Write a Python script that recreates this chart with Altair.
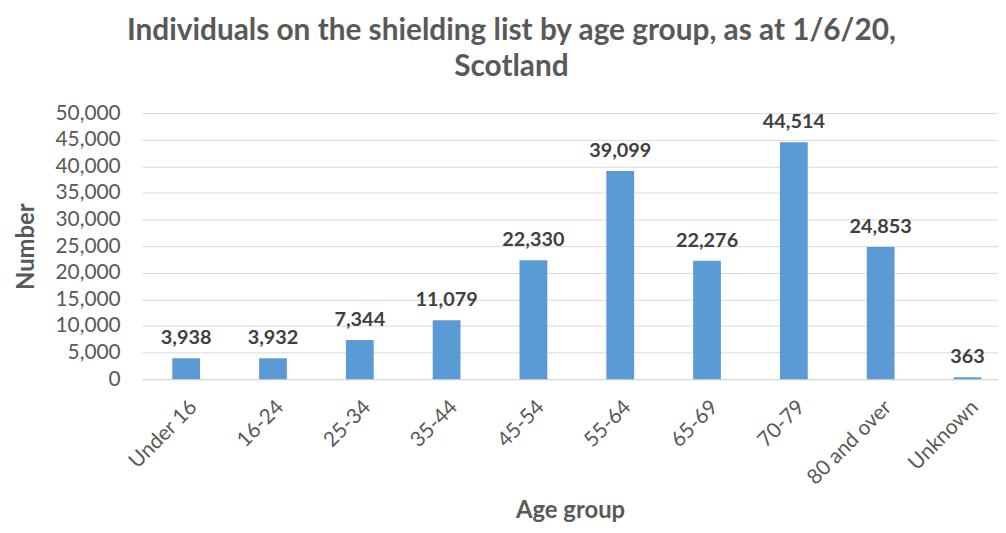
import altair as alt
import pandas as pd

age_groups = ["Under 16", "16-24", "25-34", "35-44", "45-54", "55-64",
              "65-69", "70-79", "80 and over", "Unknown"]
counts = [3938, 3932, 7344, 11079, 22330, 39099, 22276, 44514, 24853, 363]
y_ticks = [0, 5000, 10000, 15000, 20000, 25000, 30000, 35000, 40000, 45000, 50000]

df = pd.DataFrame({"age": age_groups, "n": counts})

FONT = "Lato"
GREY = "#595959"

xscale = alt.Scale(domain=age_groups, paddingInner=0.68, paddingOuter=0.27, align=0.645)
yscale = alt.Scale(domain=[0, 50000])

base = alt.Chart(df).encode(
    x=alt.X("age:N", sort=age_groups, scale=xscale,
            axis=alt.Axis(title="Age group", labelAngle=-45, labelFontSize=21,
                          labelColor=GREY, labelFont=FONT, labelPadding=17,
                          ticks=False, domainColor="#d9d9d9",
                          titleFontSize=24, titleFont=FONT, titleColor=GREY,
                          titleFontWeight="bold", titleY=139, titleBaseline="alphabetic")),
    y=alt.Y("n:Q", scale=yscale,
            axis=alt.Axis(title="Number", values=y_ticks, format=",d",
                          labelOverlap=False, labelFlush=False,
                          labelFontSize=21, labelColor=GREY, labelFont=FONT,
                          labelPadding=22, ticks=False, domain=False,
                          gridColor="#d9d9d9", titleFontSize=24, titleFont=FONT,
                          titleColor=GREY, titleFontWeight="bold",
                          titleX=-104, titleY=134)),
)

bars = base.mark_bar(color="#5B9BD5")

labels = base.mark_text(baseline="alphabetic", dy=-14, fontSize=20, fontWeight="bold",
                        font=FONT, color="#404040").encode(
    text=alt.Text("n:Q", format=","),
)

chart = (bars + labels).properties(
    width=862, height=268,
    padding={"left": 135, "top": 104, "right": 0, "bottom": 145},
    autosize=alt.AutoSizeParams(type="none"),
    title=alt.TitleParams(
        text=["Individuals on the shielding list by age group, as at 1/6/20,", "Scotland"],
        fontSize=30, font=FONT, fontWeight="bold", color=GREY, anchor="middle",
        dx=-59, offset=20, lineHeight=37,
    ),
).configure_view(stroke=None)

chart.save("out.html", embed_options={"renderer": "svg", "actions": False})
